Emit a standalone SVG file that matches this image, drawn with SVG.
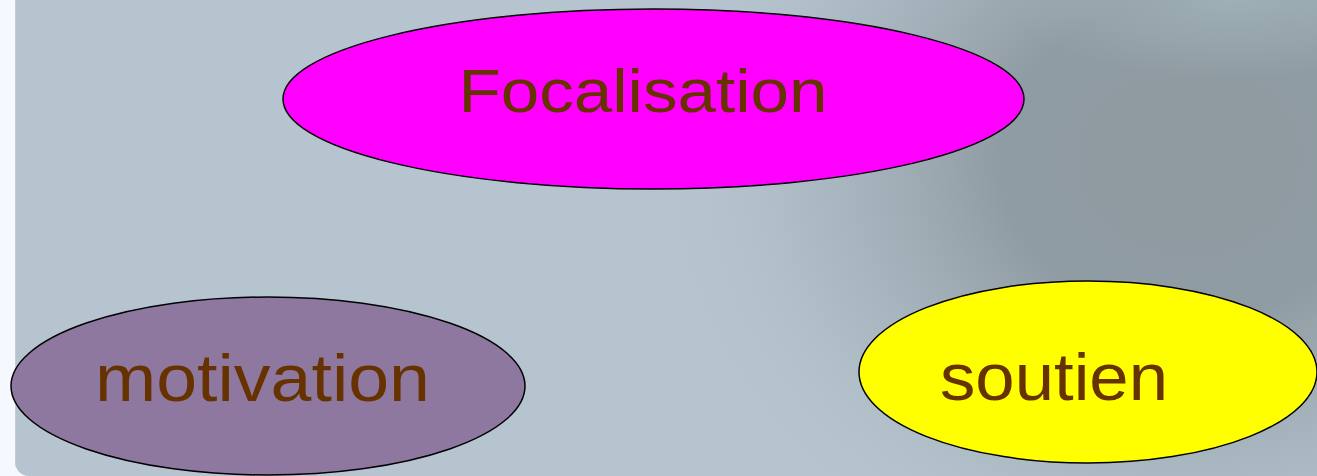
<svg xmlns="http://www.w3.org/2000/svg" width="1317" height="476" viewBox="0 0 1317 476">
  <defs>
    <radialGradient id="shade" cx="1190" cy="160" r="540" gradientUnits="userSpaceOnUse" gradientTransform="translate(1190 160) scale(1 0.85) translate(-1190 -160)">
      <stop offset="0" stop-color="#8e9aa0"/>
      <stop offset="0.35" stop-color="#909ca3"/>
      <stop offset="0.7" stop-color="#a6b4bd" stop-opacity="0.7"/>
      <stop offset="1" stop-color="#b6c4cf" stop-opacity="0"/>
    </radialGradient>
    <radialGradient id="topglow" cx="1230" cy="0" r="160" gradientUnits="userSpaceOnUse" gradientTransform="translate(1230 0) scale(1.4 0.5) translate(-1230 0)">
      <stop offset="0" stop-color="#a2b4bb" stop-opacity="0.8"/>
      <stop offset="1" stop-color="#a2b4bb" stop-opacity="0"/>
    </radialGradient>
  </defs>
  <style>
    .node { stroke: #000; stroke-width: 1.5; }
    .label { fill: #663300; font-family: "Liberation Sans", "DejaVu Sans", sans-serif; text-anchor: middle; }
  </style>

  <!-- page and rounded panel -->
  <rect x="0" y="0" width="1317" height="476" fill="#f5f8fe"/>
  <rect x="15" y="-30" width="1340" height="506" rx="14" fill="#b6c4cf"/>
  <rect x="15" y="-30" width="1340" height="506" rx="14" fill="url(#shade)"/>
  <rect x="1000" y="0" width="317" height="90" fill="url(#topglow)"/>
  <line x1="15.5" y1="0" x2="15.5" y2="462" stroke="#c3cfd8" stroke-width="1"/>

  <g id="connectors"/>

  <g id="node-focalisation">
    <ellipse class="node" cx="653.5" cy="99" rx="370.5" ry="90" fill="#ff00ff"/>
    <text class="label" x="643" y="112" font-size="61" textLength="369" lengthAdjust="spacingAndGlyphs">Focalisation</text>
  </g>

  <g id="node-motivation">
    <ellipse class="node" cx="268" cy="386" rx="257" ry="89" fill="#8f78a0"/>
    <text class="label" x="262.5" y="401" font-size="66" textLength="335" lengthAdjust="spacingAndGlyphs">motivation</text>
  </g>

  <g id="node-soutien">
    <ellipse class="node" cx="1088" cy="372" rx="229" ry="91" fill="#ffff00"/>
    <text class="label" x="1054" y="400" font-size="67" textLength="228" lengthAdjust="spacingAndGlyphs">soutien</text>
  </g>
</svg>
